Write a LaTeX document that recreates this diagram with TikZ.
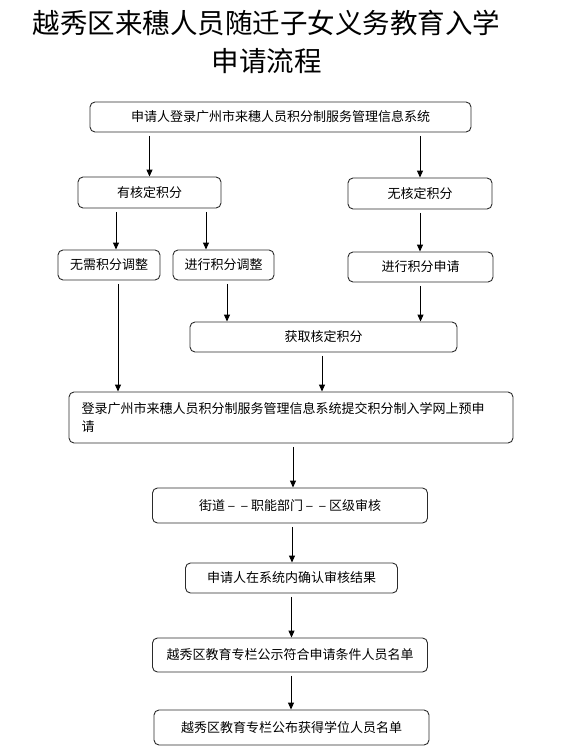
\documentclass[tikz,border=0pt]{standalone}
\usepackage{fontspec}
\setmainfont{Noto Sans CJK SC}
\usepackage{tikz}
\usetikzlibrary{arrows.meta}
\usetikzlibrary{calc}
\definecolor{C0}{HTML}{2B2B2B}
\tikzstyle{box} = [draw=C0, line width=0.9pt, rounded corners=5pt, inner sep=0pt, font=\fontsize{13}{18}\selectfont]
\tikzstyle{flow} = [draw=black, line width=1pt, -{Triangle[width=6pt,length=7pt]}, shorten <=3.5pt]
\newcommand{\gapdash}{\makebox[1em]{\scalebox{0.62}[1]{—}}}

\begin{document}
\begin{tikzpicture}[x=1pt, y=-1pt]
	\useasboundingbox (0, 0) rectangle (565, 751) ;
	
	\node[align=center, inner sep=0pt, font=\fontsize{27.5}{38}\selectfont] (title) at (266.5, 42) {越秀区来穗人员随迁子女义务教育入学\\申请流程} ;
	
	\node[box, minimum width=381pt, minimum height=30pt] (top) at (280.5, 117) {申请人登录广州市来穗人员积分制服务管理信息系统} ;
	
	\node[box, minimum width=143pt, minimum height=31pt] (has) at (149.5, 192.5) {有核定积分} ;
	\node[box, minimum width=144pt, minimum height=31pt] (hasnot) at (420, 193.5) {无核定积分} ;
	
	\node[box, minimum width=102pt, minimum height=30pt] (noadj) at (109, 265) {无需积分调整} ;
	\node[box, minimum width=101pt, minimum height=30pt] (adj) at (223.5, 265) {进行积分调整} ;
	\node[box, minimum width=145pt, minimum height=30pt] (apply) at (420.5, 267) {进行积分申请} ;
	
	\node[box, minimum width=267pt, minimum height=30pt] (get) at (323.5, 337) {获取核定积分} ;
	
	\node[box, align=left, text width=419pt, inner xsep=12.5pt, minimum height=51pt] (submit) at (291, 417.5) {登录广州市来穗人员积分制服务管理信息系统提交积分制入学网上预申\\请} ;
	
	\node[box, minimum width=275pt, minimum height=35pt] (review) at (290, 505.5) {街道\gapdash\gapdash 职能部门\gapdash\gapdash 区级审核} ;
	\node[box, minimum width=212pt, minimum height=30pt] (confirm) at (291.5, 578) {申请人在系统内确认审核结果} ;
	\node[box, minimum width=275pt, minimum height=34pt] (publicity) at (290, 655) {越秀区教育专栏公示符合申请条件人员名单} ;
	\node[box, minimum width=275pt, minimum height=35pt] (publish) at (291.5, 727.5) {越秀区教育专栏公布获得学位人员名单} ;
	
	
	\draw[flow] (top.south -| has.north) -- (has.north) ;
	\draw[flow] (top.south -| hasnot.north) -- (hasnot.north) ;
	
	\draw[flow] ([xshift=-33.5pt]has.south) -- ([xshift=-33.5pt]has.south |- noadj.north) ;
	\draw[flow] ([xshift=56.5pt]has.south) -- ([xshift=56.5pt]has.south |- adj.north) ;
	\draw[flow] (hasnot.south) -- (hasnot.south |- apply.north) ;
	
	\draw[flow] ([xshift=9pt]noadj.south) -- ([xshift=9pt]noadj.south |- submit.north) ;
	\draw[flow] ([xshift=3.5pt]adj.south) -- ([xshift=3.5pt]adj.south |- get.north) ;
	\draw[flow] (apply.south) -- (apply.south |- get.north) ;
	\draw[flow] ([xshift=-1.5pt]get.south) -- ([xshift=-1.5pt]get.south |- submit.north) ;
	
	\draw[flow] ([xshift=2pt]submit.south) -- ([xshift=2pt]submit.south |- review.north) ;
	\draw[flow] ([xshift=2pt]review.south) -- ([xshift=2pt]review.south |- confirm.north) ;
	\draw[flow] (confirm.south) -- (confirm.south |- publicity.north) ;
	\draw[flow] ([xshift=1pt]publicity.south) -- ([xshift=1pt]publicity.south |- publish.north) ;
\end{tikzpicture}
\end{document}
